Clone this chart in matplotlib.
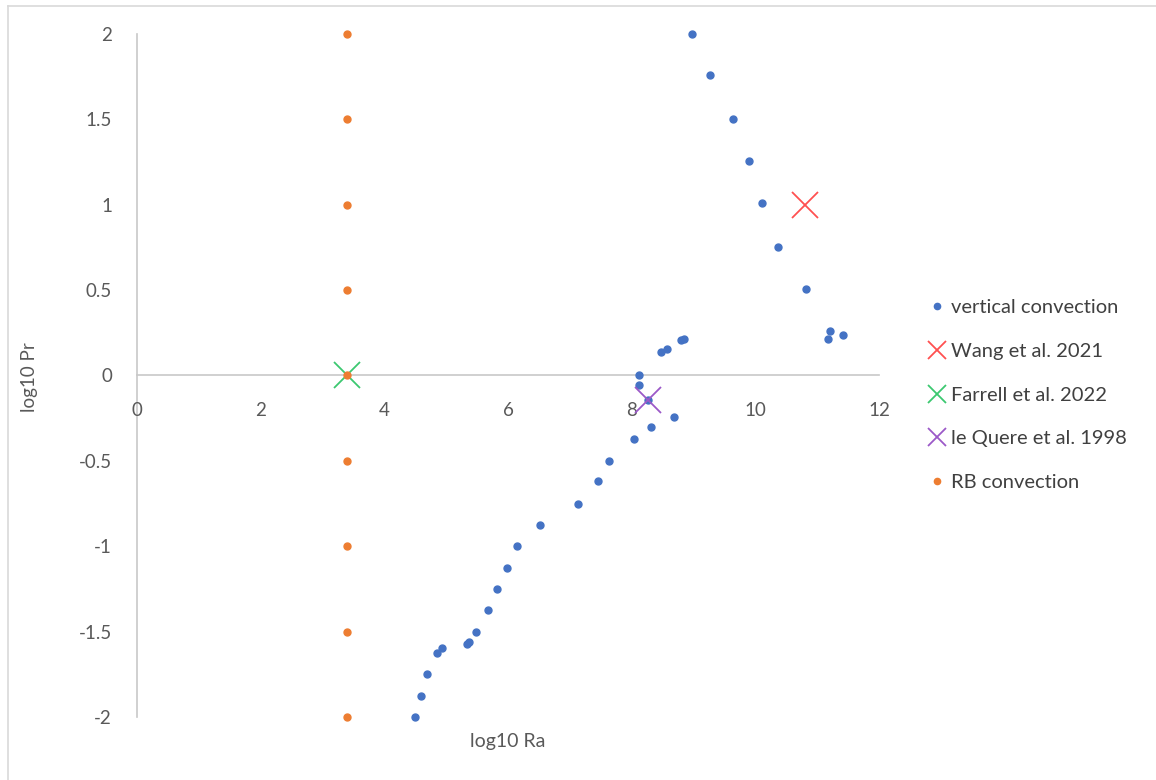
import numpy as np
import matplotlib
matplotlib.use('Agg')
from matplotlib import pyplot as plt
from matplotlib.lines import Line2D

# log10 Ra / log10 Pr for the vertical convection runs
vc_ra = [8.97, 9.27, 9.64, 9.89, 10.11, 10.36, 10.82, 11.20, 11.17, 11.41,
         8.79, 8.84, 8.57, 8.47, 8.12, 8.12, 8.27, 8.69, 8.31, 8.03,
         7.63, 7.45, 7.14, 6.52, 6.14, 5.98, 5.83, 5.67, 5.49, 5.37,
         5.33, 4.93, 4.85, 4.69, 4.59, 4.50]
vc_pr = [2.0, 1.76, 1.5, 1.255, 1.01, 0.753, 0.506, 0.259, 0.212, 0.237,
         0.208, 0.216, 0.158, 0.137, 0.0, -0.053, -0.145, -0.244, -0.303, -0.373,
         -0.5, -0.62, -0.75, -0.875, -1.0, -1.125, -1.25, -1.375, -1.5, -1.56,
         -1.57, -1.593, -1.626, -1.75, -1.875, -2.0]

# Rayleigh-Benard runs
rb_ra = [3.4] * 9
rb_pr = [2, 1.5, 1, 0.5, 0, -0.5, -1, -1.5, -2]

# single reference cases
wang = (10.8, 1.0)
farrell = (3.4, 0.0)
lequere = (8.27, -0.145)

plt.rcParams['font.family'] = ['Lato', 'DejaVu Sans']

fig = plt.figure(figsize=[11.56, 7.8], dpi=100)
ax = fig.add_axes([137/1156, 1 - 717/780, (879 - 137)/1156, (717 - 34)/780])

ax.plot(vc_ra, vc_pr, 'o', color='#4472C4', ms=5, ls='none', clip_on=False,
        label='vertical convection')
ax.plot(*wang, 'x', color='#FF5050', ms=19, mew=1.3, clip_on=False, label='Wang et al. 2021')
ax.plot(*farrell, 'x', color='#3CC870', ms=19, mew=1.3, clip_on=False, label='Farrell et al. 2022')
ax.plot(*lequere, 'x', color='#9B59C8', ms=19, mew=1.3, clip_on=False, label='le Quere et al. 1998')
ax.plot(rb_ra, rb_pr, 'o', color='#ED7D31', ms=5, ls='none', clip_on=False,
        label='RB convection')

ax.set_xlim(0, 12)
ax.set_ylim(-2, 2)
ax.set_xticks(np.arange(0, 13, 2))
ax.set_yticks(np.arange(-2, 2.01, 0.5))
ax.set_yticklabels(['-2', '-1.5', '-1', '-0.5', '0', '0.5', '1', '1.5', '2'])

for s in ['top', 'right']:
    ax.spines[s].set_visible(False)
ax.spines['bottom'].set_position(('data', 0))
for s in ['left', 'bottom']:
    ax.spines[s].set_color('#C8C8C8')
    ax.spines[s].set_linewidth(1.2)
    ax.spines[s].set_zorder(0.5)
ax.tick_params(length=0, labelsize=13.5, colors='#595959')
ax.tick_params(axis='y', pad=18)
ax.tick_params(axis='x', pad=19)

fig.text(30/1156, 1 - 377/780, 'log10 Pr', rotation=90, ha='center', va='center',
         fontsize=13.5, color='#595959')
fig.text(508/1156, 1 - 742/780, 'log10 Ra', ha='center', va='center',
         fontsize=14, color='#595959')

leg = ax.legend(loc='center left', bbox_to_anchor=(921/1156, 1 - 395/780),
                bbox_transform=fig.transFigure, frameon=False, fontsize=14.5,
                handlelength=0.8, handletextpad=0.3, labelspacing=1.32,
                markerscale=0.6, borderaxespad=0)
for t in leg.get_texts():
    t.set_color('#404040')
for h in leg.legend_handles:
    if h.get_marker() == 'o':
        h.set_markersize(4.5)
    else:
        h.set_markersize(13)
        h.set_markeredgewidth(1.3)

# light frame on the chart area
fig.add_artist(Line2D([8/1156, 8/1156], [0, 1 - 6/780], transform=fig.transFigure,
                      color='#D9D9D9', lw=1.2))
fig.add_artist(Line2D([8/1156, 1], [1 - 6/780, 1 - 6/780], transform=fig.transFigure,
                      color='#D9D9D9', lw=1.2))

plt.savefig('out.png', dpi=100)
